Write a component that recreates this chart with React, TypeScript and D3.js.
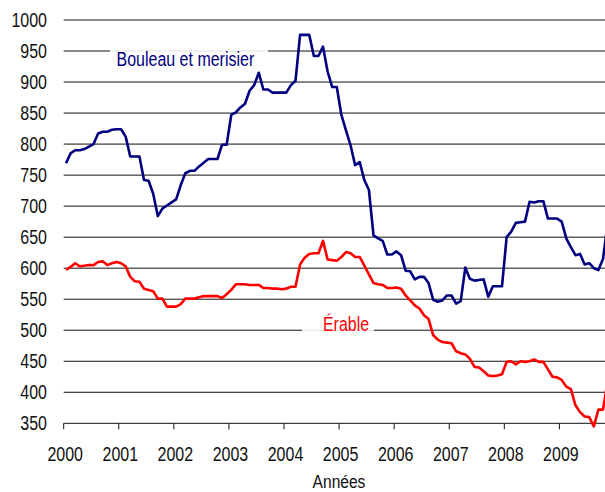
import React from 'react';
import * as d3 from 'd3';

// monthly index, Jan 2000 .. Nov 2009 (last month partly cut by the frame)
const yearLabels = ['2000', '2001', '2002', '2003', '2004', '2005', '2006', '2007', '2008', '2009'];
const yTicks = [350, 400, 450, 500, 550, 600, 650, 700, 750, 800, 850, 900, 950, 1000];

const bouleau = [
  769, 785, 790, 790, 792, 796, 800, 817, 820, 820, 823, 824,
  824, 812, 780, 780, 780, 742, 741, 720, 684, 696, 701, 706,
  711, 734, 753, 757, 757, 764, 770, 776, 776, 776, 799, 799,
  847, 851, 859, 865, 886, 895, 915, 888, 888, 883, 883, 883,
  883, 895, 902, 976, 976, 976, 942, 942, 957, 917, 892, 892,
  847, 822, 798, 766, 771, 742, 726, 653, 648, 644, 622, 622,
  627, 621, 596, 595, 582, 586, 586, 576, 549, 546, 548, 556,
  556, 543, 547, 601, 583, 580, 581, 582, 554, 571, 571, 571,
  650, 659, 673, 674, 675, 707, 706, 708, 708, 680, 680, 680,
  675, 648, 634, 621, 623, 606, 608, 600, 597, 615, 672,
];

const erable = [
  597, 602, 608, 603, 604, 605, 605, 610, 611, 605, 608, 610,
  608, 603, 586, 579, 578, 567, 565, 563, 551, 551, 538, 538,
  538, 542, 551, 551, 551, 553, 555, 555, 555, 555, 552, 558,
  565, 574, 574, 574, 573, 573, 573, 568, 568, 567, 567, 566,
  567, 570, 570, 606, 617, 623, 624, 624, 644, 614, 613, 612,
  618, 626, 624, 618, 618, 604, 590, 576, 574, 573, 568, 568,
  569, 567, 556, 548, 540, 535, 524, 518, 492, 485, 481, 480,
  479, 466, 463, 461, 454, 441, 440, 434, 427, 426, 427, 429,
  449, 450, 445, 450, 449, 450, 453, 449, 449, 437, 425, 424,
  420, 409, 405, 379, 368, 361, 360, 345, 372, 372, 418,
];

const FONT = 'Liberation Sans, Arial, sans-serif';
const SQUEEZE = 0.82;

export default function App() {
  const width = 605;
  const height = 492;
  const plotLeft = 63.7;
  const plotRight = 605.3;

  const x = d3.scaleLinear().domain([0, 118]).range([plotLeft, plotRight]);
  const y = d3.scaleLinear().domain([350, 1000]).range([423.3, 20]);

  const line = d3.line<number>()
    .x((_, i) => x(i + 0.5))
    .y(d => y(d));

  return (
    <svg width={width} height={height} style={{ position: 'absolute', left: 0, top: 0, background: '#fff' }}>
      <defs>
        <clipPath id="plot">
          <rect x={plotLeft} y={0} width={plotRight - plotLeft} height={440} />
        </clipPath>
      </defs>

      {/* gridlines */}
      {yTicks.slice(1).map(t => (
        <line key={t} x1={plotLeft} x2={plotRight} y1={y(t)} y2={y(t)} stroke="#111" strokeWidth={1} />
      ))}

      {/* x axis */}
      <line x1={plotLeft} x2={plotRight} y1={y(350)} y2={y(350)} stroke="#111" strokeWidth={1} />
      {yearLabels.map((lab, k) => (
        <g key={lab}>
          <line x1={x(k * 12)} x2={x(k * 12)} y1={y(350)} y2={y(350) + 6} stroke="#111" strokeWidth={1} />
          <g transform={`translate(${x(k * 12) + 1.5},460.5) scale(${SQUEEZE},1)`}>
            <text textAnchor="middle" fontFamily={FONT} fontSize={19.5} fill="#111">{lab}</text>
          </g>
        </g>
      ))}

      {/* y labels */}
      {yTicks.map(t => (
        <g key={t} transform={`translate(47,${y(t) + 7}) scale(${SQUEEZE},1)`}>
          <text textAnchor="end" fontFamily={FONT} fontSize={19.5} fill="#111">{t}</text>
        </g>
      ))}

      {/* series labels with light boxes */}
      <rect x={110} y={44} width={158} height={28} fill="#fff" opacity={0.88} />
      <g transform={`translate(116.5,65.5) scale(${SQUEEZE},1)`}>
        <text fontFamily={FONT} fontSize={19.5} fill="#000080">Bouleau et merisier</text>
      </g>
      <rect x={302} y={309} width={72} height={27} fill="#fff" opacity={0.88} />
      <g transform={`translate(346,331) scale(${SQUEEZE},1)`}>
        <text textAnchor="middle" fontFamily={FONT} fontSize={19.5} fill="#ff0000">Érable</text>
      </g>

      <g clipPath="url(#plot)">
        <path d={line(bouleau) || ''} fill="none" stroke="#000080" strokeWidth={2.6} strokeLinejoin="round" />
        <path d={line(erable) || ''} fill="none" stroke="#ff0000" strokeWidth={2.6} strokeLinejoin="round" />
      </g>

      <g transform={`translate(339,487.5) scale(${SQUEEZE},1)`}>
        <text textAnchor="middle" fontFamily={FONT} fontSize={19} fill="#111">Années</text>
      </g>
    </svg>
  );
}
